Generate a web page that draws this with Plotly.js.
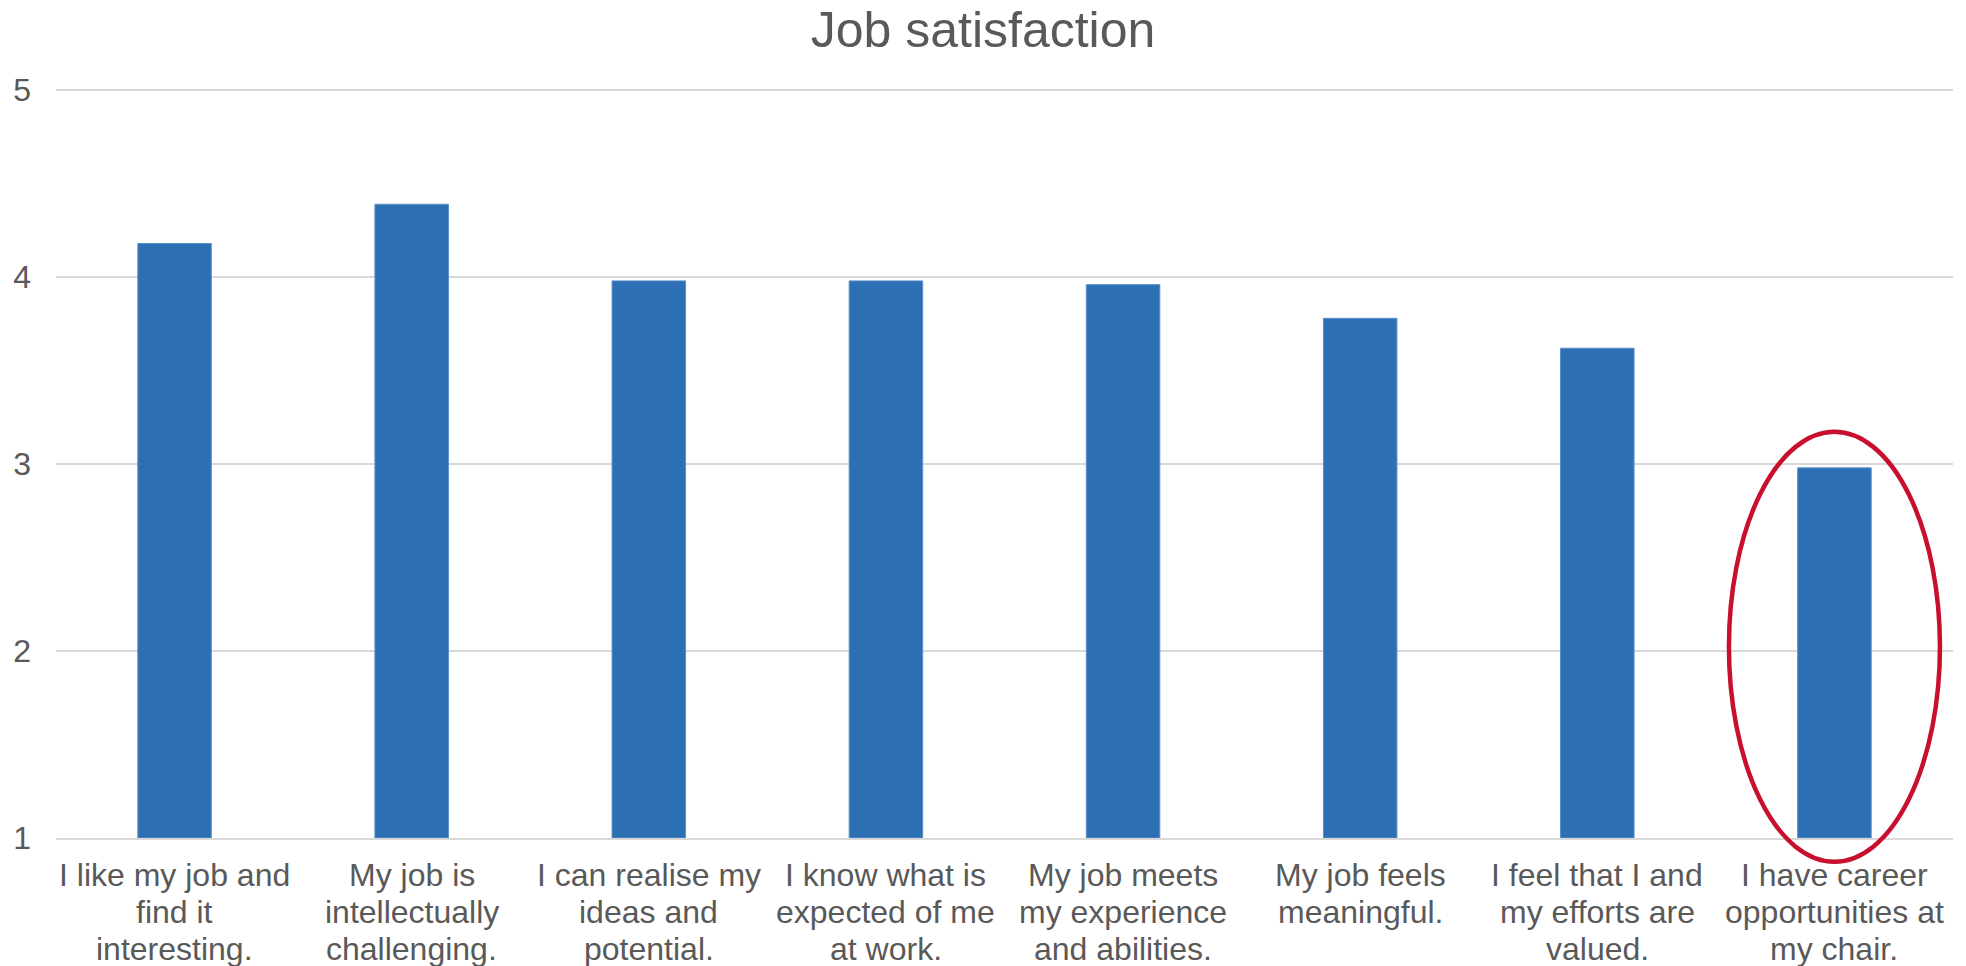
<!DOCTYPE html>
<html>
<head>
<meta charset="utf-8">
<script src="https://cdn.plot.ly/plotly-3.0.1.min.js"></script>
<style>html,body{margin:0;padding:0;background:#fff;}#chart{width:1966px;height:966px;}</style>
</head>
<body>
<div id="chart"></div>
<script>
const categories = [
  "I like my job and<br>find it<br>interesting.",
  "My job is<br>intellectually<br>challenging.",
  "I can realise my<br>ideas and<br>potential.",
  "I know what is<br>expected of me<br>at work.",
  "My job meets<br>my experience<br>and abilities.",
  "My job feels<br>meaningful.",
  "I feel that I and<br>my efforts are<br>valued.",
  "I have career<br>opportunities at<br>my chair."
];
const scores = [4.18, 4.39, 3.98, 3.98, 3.96, 3.78, 3.62, 2.98];
const yTicks = [1, 2, 3, 4, 5];
const yRange = [1, 5.012];   // tiny headroom so the top gridline at 5 is drawn
// highlight ellipse around the last category (category index, half-width in category units, value span)
const highlightIndex = 7;
const highlightHalfWidth = 0.445;
const highlightValueSpan = [0.873, 3.173];

const FONT = '"Liberation Sans", Arial, sans-serif';
const GREY = '#595959';
const LABEL_SIZE = 32;
const LABEL_FIRST_OFFSET = 37;   // px below the axis to the first line's centre
const LABEL_LINE_STEP = 37;      // px between label lines

const n = categories.length;
const toPaperX = i => (i + 0.5) / n;
const toPaperY = v => (v - yRange[0]) / (yRange[1] - yRange[0]);

const trace = {
  type: 'bar',
  x: categories,
  y: scores.map(v => v - yRange[0]),
  base: yRange[0],
  marker: {color: '#2C70B3', line: {color: '#5B8FC8', width: 1}},
  hoverinfo: 'skip'
};

// category labels with Excel-like tight line spacing
const labelAnnotations = [];
categories.forEach(cat => {
  cat.split('<br>').forEach((line, j) => {
    labelAnnotations.push({
      x: cat, xref: 'x', y: 0, yref: 'paper',
      yshift: -(LABEL_FIRST_OFFSET + j * LABEL_LINE_STEP),
      xanchor: 'center', yanchor: 'middle',
      text: line, showarrow: false,
      font: {family: FONT, size: LABEL_SIZE, color: GREY}
    });
  });
});

const layout = {
  width: 1966, height: 966,
  margin: {l: 56, r: 13, t: 88, b: 128, pad: 0},
  paper_bgcolor: '#fff', plot_bgcolor: '#fff',
  showlegend: false,
  bargap: 0.69,
  title: {
    text: 'Job satisfaction',
    font: {family: FONT, size: 50, color: GREY},
    x: 0.5, xref: 'container', xanchor: 'center',
    y: 1 - 29/966, yref: 'container', yanchor: 'middle'
  },
  font: {family: FONT, color: GREY},
  xaxis: {
    type: 'category',
    showticklabels: false,
    showgrid: false,
    showline: true, linecolor: '#D9D9D9', linewidth: 2,
    ticks: '',
    automargin: false,
    range: [-0.5, n - 0.5]
  },
  yaxis: {
    range: yRange,
    tickvals: yTicks,
    ticktext: yTicks.map(String),
    tickfont: {family: FONT, size: 32, color: GREY},
    showgrid: true, gridcolor: '#D9D9D9', gridwidth: 2,
    zeroline: false, showline: false,
    ticks: '',
    ticklabelstandoff: 24,
    automargin: false
  },
  annotations: labelAnnotations,
  shapes: [{
    type: 'circle',
    xref: 'paper', yref: 'paper',
    x0: toPaperX(highlightIndex - highlightHalfWidth),
    x1: toPaperX(highlightIndex + highlightHalfWidth),
    y0: toPaperY(highlightValueSpan[0]),
    y1: toPaperY(highlightValueSpan[1]),
    line: {color: '#C8102E', width: 4.5},
    fillcolor: 'rgba(0,0,0,0)',
    layer: 'above'
  }]
};

Plotly.newPlot('chart', [trace], layout, {displayModeBar: false, staticPlot: true});
</script>
</body>
</html>
